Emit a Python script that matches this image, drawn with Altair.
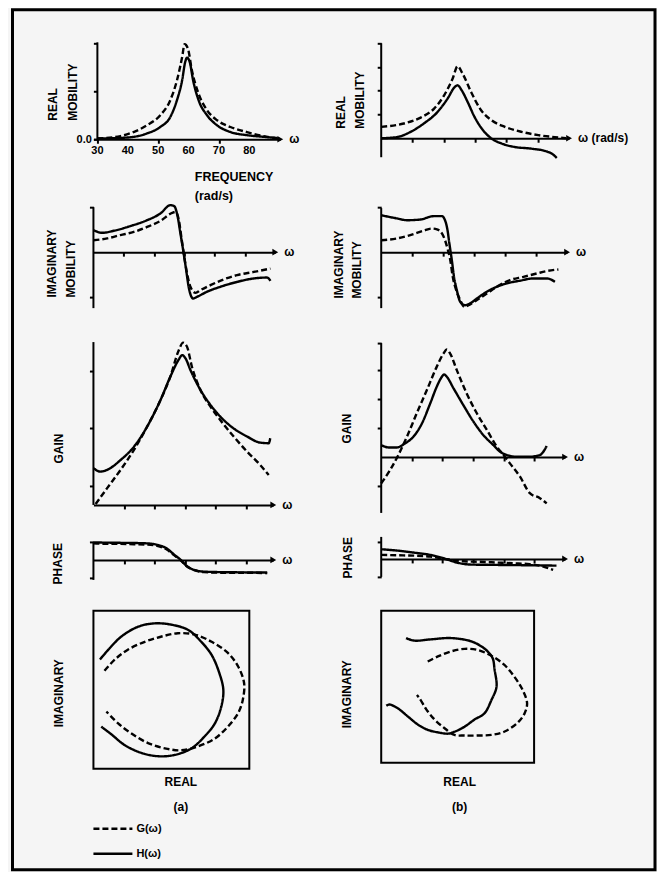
import altair as alt
import pandas as pd

FONT = "Liberation Sans"
SERIES = ["G(ω)", "H(ω)"]
DASHES = [[6, 3], [1, 0]]

# ---------------- column (a) ----------------
REAL_A_FREQ_G = [30.0, 37.6, 41.9, 46.3, 50.7, 54.0, 56.2, 57.9, 58.7, 59.8, 61.1, 63.3, 66.1, 69.4, 73.8, 79.2, 84.7, 89.6]
REAL_A_G = [0.03, 0.13, 0.30, 0.58, 1.00, 1.63, 2.46, 3.43, 3.96, 3.78, 2.88, 1.90, 1.21, 0.79, 0.51, 0.30, 0.13, 0.03]
REAL_A_FREQ_H = [30.0, 39.8, 46.3, 50.7, 54.0, 56.2, 57.9, 58.9, 59.5, 60.4, 61.5, 63.3, 66.1, 69.4, 73.8, 79.2, 84.7, 89.1]
REAL_A_H = [0.03, 0.07, 0.24, 0.51, 0.93, 1.63, 2.46, 3.22, 3.40, 3.22, 2.46, 1.63, 1.00, 0.58, 0.30, 0.17, 0.10, 0.05]

IMAG_A_FREQ_G = [30.0, 34.5, 38.9, 43.3, 47.7, 52.1, 56.0, 57.1, 58.2, 59.0, 59.8, 60.9, 62.0, 63.7, 65.3, 68.6, 73.0, 77.4, 82.9, 88.4]
IMAG_A_G = [0.53, 0.61, 0.76, 0.90, 1.12, 1.39, 1.75, 1.79, 1.42, 0.68, -0.06, -0.95, -1.54, -1.81, -1.69, -1.47, -1.21, -1.02, -0.88, -0.73]
IMAG_A_FREQ_H = [30.0, 32.9, 36.7, 42.2, 47.7, 52.1, 55.4, 56.7, 57.8, 58.7, 59.6, 60.6, 61.5, 62.9, 64.3, 67.5, 71.9, 77.5, 82.9, 87.3, 88.4]
IMAG_A_H = [0.98, 0.86, 0.95, 1.16, 1.42, 1.72, 2.09, 2.04, 1.57, 0.83, 0.09, -0.80, -1.61, -2.06, -1.98, -1.76, -1.54, -1.32, -1.17, -1.13, -1.28]

GAIN_A_FREQ_G = [30.7, 34.5, 38.9, 43.3, 47.6, 52.0, 55.2, 58.0, 59.4, 60.7, 62.3, 65.1, 68.4, 71.6, 76.0, 80.4, 84.7, 87.5]
GAIN_A_G = [0.03, 0.58, 1.21, 1.90, 2.70, 3.62, 4.42, 5.34, 5.60, 5.46, 4.77, 3.97, 3.39, 2.93, 2.36, 1.84, 1.38, 1.03]
GAIN_A_FREQ_H = [30.0, 32.3, 34.5, 38.9, 43.3, 47.6, 52.0, 55.2, 58.0, 59.1, 60.2, 61.8, 65.1, 68.4, 71.6, 76.0, 80.4, 84.7, 87.5, 88.0]
GAIN_A_H = [1.27, 1.15, 1.21, 1.55, 2.01, 2.70, 3.62, 4.42, 5.02, 5.17, 5.06, 4.66, 3.97, 3.45, 3.05, 2.64, 2.36, 2.15, 2.13, 2.30]

PHASE_A_FREQ = [30.0, 34.5, 38.9, 43.3, 47.6, 50.9, 54.2, 56.3, 58.5, 60.7, 62.9, 66.2, 71.6, 77.1, 82.6, 87.0]
PHASE_A_G = [0.93, 0.89, 0.89, 0.87, 0.85, 0.78, 0.56, 0.28, 0.00, -0.37, -0.56, -0.68, -0.71, -0.71, -0.71, -0.74]
PHASE_A_H = [0.97, 0.96, 0.95, 0.94, 0.92, 0.84, 0.62, 0.32, 0.02, -0.35, -0.55, -0.65, -0.68, -0.69, -0.70, -0.70]

NYQ_A_G_RE = [-1.03, -0.87, -0.67, -0.41, -0.15, 0.10, 0.36, 0.62, 0.87, 1.03, 1.12, 1.10, 1.03, 0.87, 0.67, 0.41, 0.15, -0.10, -0.36, -0.62, -0.82, -1.00]
NYQ_A_G_IM = [0.29, 0.46, 0.61, 0.73, 0.81, 0.86, 0.84, 0.73, 0.56, 0.35, 0.10, -0.15, -0.35, -0.56, -0.74, -0.86, -0.92, -0.89, -0.81, -0.66, -0.51, -0.33]
NYQ_A_H_RE = [-1.10, -0.97, -0.77, -0.51, -0.26, 0.00, 0.26, 0.46, 0.62, 0.74, 0.80, 0.77, 0.67, 0.51, 0.31, 0.05, -0.20, -0.46, -0.72, -0.92, -1.08]
NYQ_A_H_IM = [0.46, 0.61, 0.81, 0.96, 1.01, 0.99, 0.91, 0.73, 0.53, 0.25, 0.00, -0.25, -0.51, -0.71, -0.89, -0.99, -1.01, -0.96, -0.84, -0.68, -0.56]

# ---------------- column (b) ----------------
REAL_B_W_G = [0.0, 0.72, 1.26, 1.69, 2.01, 2.28, 2.44, 2.60, 2.87, 3.19, 3.52, 3.95, 4.48, 5.02, 5.67, 5.90]
REAL_B_G = [0.48, 0.62, 0.87, 1.25, 1.81, 2.51, 3.03, 2.72, 1.95, 1.18, 0.76, 0.48, 0.27, 0.13, 0.03, 0.00]
REAL_B_W_H = [0.0, 0.51, 0.94, 1.36, 1.80, 2.12, 2.35, 2.44, 2.57, 2.76, 2.98, 3.25, 3.52, 3.84, 4.27, 4.81, 5.24, 5.45, 5.61]
REAL_B_H = [0.00, 0.05, 0.27, 0.62, 1.11, 1.67, 2.16, 2.23, 2.02, 1.53, 0.90, 0.34, -0.01, -0.22, -0.37, -0.44, -0.54, -0.65, -0.83]

IMAG_B_W_G = [0.0, 0.51, 0.94, 1.36, 1.63, 1.80, 1.96, 2.06, 2.14, 2.23, 2.31, 2.42, 2.55, 2.68, 2.82, 3.09, 3.41, 3.73, 4.16, 4.59, 5.02, 5.35, 5.72]
IMAG_B_G = [0.53, 0.61, 0.76, 0.95, 1.05, 1.01, 0.83, 0.53, 0.16, -0.36, -1.10, -1.69, -2.13, -2.43, -2.36, -2.13, -1.84, -1.54, -1.24, -1.10, -0.95, -0.84, -0.77]
IMAG_B_W_H = [0.0, 0.51, 0.83, 1.26, 1.69, 1.96, 2.06, 2.14, 2.20, 2.28, 2.35, 2.44, 2.55, 2.71, 2.87, 3.09, 3.41, 3.73, 4.05, 4.48, 4.91, 5.35, 5.61]
IMAG_B_H = [1.64, 1.50, 1.42, 1.45, 1.60, 1.60, 1.42, 0.98, 0.39, -0.36, -1.10, -1.69, -2.21, -2.36, -2.28, -2.06, -1.76, -1.54, -1.39, -1.27, -1.17, -1.17, -1.32]

GAIN_B_W_G = [0.0, 0.29, 0.56, 0.84, 1.16, 1.49, 1.81, 2.03, 2.14, 2.25, 2.47, 2.79, 3.12, 3.45, 3.77, 3.99, 4.20, 4.53, 4.85, 5.18, 5.40]
GAIN_B_G = [-0.91, -0.45, 0.07, 0.70, 1.51, 2.31, 3.11, 3.57, 3.71, 3.57, 2.99, 2.19, 1.51, 0.93, 0.36, 0.07, -0.22, -0.68, -1.25, -1.42, -1.60]
GAIN_B_W_H = [0.0, 0.24, 0.51, 0.78, 1.05, 1.33, 1.60, 1.81, 1.98, 2.05, 2.14, 2.36, 2.68, 3.01, 3.33, 3.66, 3.88, 4.09, 4.42, 4.85, 5.18, 5.29, 5.40]
GAIN_B_H = [0.41, 0.33, 0.33, 0.47, 0.70, 1.16, 1.85, 2.42, 2.77, 2.85, 2.77, 2.37, 1.79, 1.22, 0.76, 0.41, 0.18, 0.07, 0.01, 0.01, 0.07, 0.18, 0.38]

PHASE_B_W_G = [0.0, 0.51, 1.05, 1.60, 2.14, 2.68, 3.22, 3.77, 4.31, 4.85, 5.29, 5.61]
PHASE_B_G = [0.22, 0.20, 0.18, 0.13, -0.02, -0.13, -0.16, -0.20, -0.24, -0.29, -0.42, -0.60]
PHASE_B_W_H = [0.0, 0.51, 1.05, 1.60, 2.03, 2.47, 2.90, 3.77, 4.85, 5.72]
PHASE_B_H = [0.53, 0.46, 0.35, 0.22, 0.04, -0.20, -0.31, -0.33, -0.35, -0.37]

NYQ_B_G_RE = [-0.47, -0.31, -0.10, 0.11, 0.32, 0.53, 0.73, 0.89, 1.02, 1.09, 1.05, 0.94, 0.73, 0.53, 0.32, 0.11, -0.05, -0.21, -0.36, -0.49, -0.60, -0.64]
NYQ_B_G_IM = [0.40, 0.48, 0.56, 0.60, 0.58, 0.49, 0.35, 0.16, -0.05, -0.26, -0.42, -0.57, -0.71, -0.76, -0.77, -0.77, -0.76, -0.65, -0.52, -0.36, -0.18, -0.13]
NYQ_B_H_RE = [-0.81, -0.68, -0.42, -0.10, 0.21, 0.37, 0.47, 0.55, 0.58, 0.61, 0.53, 0.42, 0.26, 0.11, -0.05, -0.15, -0.31, -0.47, -0.62, -0.78, -0.94, -1.07, -1.12]
NYQ_B_H_IM = [0.77, 0.73, 0.75, 0.77, 0.72, 0.64, 0.56, 0.45, 0.27, 0.00, -0.21, -0.42, -0.52, -0.63, -0.71, -0.74, -0.72, -0.68, -0.60, -0.47, -0.34, -0.28, -0.30]

FREQ_TICKS = [30, 40, 50, 60, 70, 80]
FREQ_TICK_LABELS = ["30", "40", "50", "60", "70", "80"]
A_TICKS = [40, 50, 60, 70, 80]
B_TICKS = [1, 2, 3, 4, 5]


def frame(xg, yg, xh, yh):
    rows = []
    for s, xs, ys in ((SERIES[0], xg, yg), (SERIES[1], xh, yh)):
        for i, (a, b) in enumerate(zip(xs, ys)):
            rows.append({"x": a, "y": b, "s": s, "i": i})
    return pd.DataFrame(rows)


DASH_ENC = alt.StrokeDash("s:N", scale=alt.Scale(domain=SERIES, range=DASHES), legend=None)


def curve_panel(d, xdom, ydom, width, height, xticks, yticks, yvis, yaxis_at,
                ytitle, ytx, yty, ylh=20, xtick_labels=None, xtitle=None, xtx=0, xty=0,
                xlh=19, wlabel="ω", ylabelexpr=None, extra=None):
    xs = alt.Scale(domain=xdom, nice=False, zero=False)
    ys = alt.Scale(domain=ydom, nice=False, zero=False)
    xoff = -(0 - ydom[0]) / (ydom[1] - ydom[0]) * height
    yoff = -(yaxis_at - xdom[0]) / (xdom[1] - xdom[0]) * width
    xax = dict(values=xticks, labels=False, offset=xoff, grid=False, domainWidth=2,
               tickWidth=2, tickSize=4)
    if xtitle:
        xax.update(title=xtitle, titleAlign="left", titleBaseline="top", titleX=xtx,
                   titleY=xty, titleLineHeight=xlh, titleFontSize=12.5)
    else:
        xax["title"] = None
    yax = dict(values=yticks, domain=False, offset=yoff, grid=False, tickWidth=2, tickSize=4,
               title=ytitle, titleAngle=-90, titleAlign="left", titleBaseline="middle",
               titleX=ytx, titleY=yty, titleLineHeight=ylh, titleFontSize=12)
    if ylabelexpr:
        yax.update(labels=True, labelExpr=ylabelexpr, labelFontSize=11, labelPadding=2)
    else:
        yax["labels"] = False
    lines = alt.Chart(d).mark_line(color="black", strokeWidth=2.4, interpolate="monotone").encode(
        x=alt.X("x:Q", scale=xs, axis=alt.Axis(**xax)),
        y=alt.Y("y:Q", scale=ys, axis=alt.Axis(**yax)),
        strokeDash=DASH_ENC,
        order="i:Q",
    )
    ax = pd.DataFrame({"x": [yaxis_at], "y": [yvis[0]], "y2": [yvis[1]]})
    rule = alt.Chart(ax).mark_rule(color="black", strokeWidth=2).encode(
        x=alt.X("x:Q", scale=xs), y=alt.Y("y:Q", scale=ys), y2="y2:Q")
    tip = pd.DataFrame({"x": [xdom[1]], "y": [0.0], "t": [wlabel]})
    arrow = alt.Chart(tip).mark_point(shape="triangle-right", filled=True, color="black",
                                      size=45, opacity=1).encode(
        x=alt.X("x:Q", scale=xs), y=alt.Y("y:Q", scale=ys))
    lab = alt.Chart(tip).mark_text(align="left", baseline="middle", dx=9, font=FONT,
                                   fontWeight="bold", fontSize=12, color="black").encode(
        x=alt.X("x:Q", scale=xs), y=alt.Y("y:Q", scale=ys), text="t:N")
    layers = [lines, rule, arrow, lab]
    if xtick_labels is not None:
        tl = pd.DataFrame({"x": xticks, "y": [0.0] * len(xticks), "t": xtick_labels})
        layers.append(alt.Chart(tl).mark_text(align="center", baseline="top", dy=6, font=FONT,
                                              fontWeight="bold", fontSize=11, color="black").encode(
            x=alt.X("x:Q", scale=xs), y=alt.Y("y:Q", scale=ys), text="t:N"))
    if extra is not None:
        layers.append(extra)
    return alt.layer(*layers).properties(width=width, height=height)


def nyq_panel(d, width, height, ytx, yty, xtitle, xtx, xty, xlh):
    sc = alt.Scale(domain=[-1.2, 1.2], nice=False, zero=False)
    return alt.Chart(d).mark_line(color="black", strokeWidth=2.4, interpolate="catmull-rom").encode(
        x=alt.X("x:Q", scale=sc, axis=alt.Axis(domain=False, ticks=False, labels=False, grid=False,
                                               title=xtitle, titleAlign="center", titleBaseline="top",
                                               titleX=xtx, titleY=xty, titleLineHeight=xlh,
                                               titleFontSize=12)),
        y=alt.Y("y:Q", scale=sc, axis=alt.Axis(domain=False, ticks=False, labels=False, grid=False,
                                               title="IMAGINARY", titleAngle=-90, titleAlign="left",
                                               titleBaseline="middle", titleX=ytx, titleY=yty,
                                               titleFontSize=12)),
        strokeDash=DASH_ENC,
        order="i:Q",
    ).properties(width=width, height=height,
                 view=alt.ViewBackground(stroke="black", strokeWidth=2))


# outer page frame (decoration)
page_frame = alt.Chart(pd.DataFrame({"k": [0]})).mark_rect(
    fillOpacity=0, stroke="black", strokeWidth=3).encode(
    x=alt.value(-81), x2=alt.value(562), y=alt.value(-32.5), y2=alt.value(828))

real_a = curve_panel(frame(REAL_A_FREQ_G, REAL_A_G, REAL_A_FREQ_H, REAL_A_H),
                     [28.7, 90.2], [-2.0, 4.042], 187, 145, FREQ_TICKS, [0, 1, 2, 3, 4],
                     [0, 4.04], 30, ["REAL", "MOBILITY"], -45, 78, ylh=20,
                     xtick_labels=FREQ_TICK_LABELS, xtitle=["FREQUENCY", "(rad/s)"],
                     xtx=101, xty=31,
                     ylabelexpr="datum.value == 0 ? '0.0' : ''", extra=page_frame)
imag_a = curve_panel(frame(IMAG_A_FREQ_G, IMAG_A_G, IMAG_A_FREQ_H, IMAG_A_H),
                     [30, 90], [-3.111, 2.0], 182, 115, A_TICKS, [-2, -1, 1, 2],
                     [-2.49, 2.0], 30, ["IMAGINARY", "MOBILITY"], -42, 90, ylh=19)
gain_a = curve_panel(frame(GAIN_A_FREQ_G, GAIN_A_G, GAIN_A_FREQ_H, GAIN_A_H),
                     [30, 89], [-0.414, 5.62], 180, 175, A_TICKS,
                     [0.65, 1.65, 2.65, 3.65, 4.63, 5.62], [0, 5.62], 30, "GAIN", -35, 121)
phase_a = curve_panel(frame(PHASE_A_FREQ, PHASE_A_G, PHASE_A_FREQ, PHASE_A_H),
                      [30, 89], [-1.722, 1.278], 180, 54, A_TICKS, [-1, 1],
                      [-1.11, 1.0], 30, "PHASE", -36, 47)
nyq_a = nyq_panel(frame(NYQ_A_G_RE, NYQ_A_G_IM, NYQ_A_H_RE, NYQ_A_H_IM), 156, 158,
                  -35, 116, ["REAL", "(a)"], 87, 8, 25)

real_b = curve_panel(frame(REAL_B_W_G, REAL_B_G, REAL_B_W_H, REAL_B_H),
                     [0, 6], [-2.063, 4.042], 188, 145, B_TICKS, [1, 2, 3, 4],
                     [-0.8, 4.0], 0, ["REAL", "MOBILITY"], -41, 86, ylh=19,
                     wlabel="ω (rad/s)")
imag_b = curve_panel(frame(IMAG_B_W_G, IMAG_B_G, IMAG_B_W_H, IMAG_B_H),
                     [0, 6], [-3.111, 2.0], 186, 115, B_TICKS, [-2, -1, 1, 2],
                     [-2.49, 1.96], 0, ["IMAGINARY", "MOBILITY"], -43, 91, ylh=18)
gain_b = curve_panel(frame(GAIN_B_W_G, GAIN_B_G, GAIN_B_W_H, GAIN_B_H),
                     [0, 6], [-2.069, 3.966], 184, 175, B_TICKS, [-1, 1, 2, 3, 3.93],
                     [-1.93, 3.93], 0, "GAIN", -35, 101)
phase_b = curve_panel(frame(PHASE_B_W_G, PHASE_B_G, PHASE_B_W_H, PHASE_B_H),
                      [0, 6], [-1.758, 1.209], 184, 54, B_TICKS, [-1, 0.95],
                      [-0.99, 1.21], 0, "PHASE", -34, 41)
nyq_b = nyq_panel(frame(NYQ_B_G_RE, NYQ_B_G_IM, NYQ_B_H_RE, NYQ_B_H_IM), 153, 152,
                  -35, 117, ["REAL", "(b)"], 78, 14, 25)

# key for the two line styles
leg_df = pd.DataFrame({"s": SERIES, "x0": [0, 0], "x1": [1, 1]})
leg_x = alt.Scale(domain=[0, 1], range=[0, 39])
leg_y = alt.Scale(type="point", domain=SERIES, range=[40, 65], padding=0)
leg_lines = alt.Chart(leg_df).mark_rule(color="black", strokeWidth=2.5).encode(
    x=alt.X("x0:Q", scale=leg_x, axis=None), x2="x1:Q",
    y=alt.Y("s:N", scale=leg_y, axis=None), strokeDash=DASH_ENC)
leg_text = alt.Chart(leg_df).mark_text(align="left", baseline="middle", dx=4, font=FONT,
                                       fontWeight="bold", fontSize=11, color="black").encode(
    x=alt.X("x1:Q", scale=leg_x, axis=None), y=alt.Y("s:N", scale=leg_y, axis=None), text="s:N")
legend = alt.layer(leg_lines, leg_text).properties(width=150, height=80)

chart = alt.concat(
    real_a, real_b, imag_a, imag_b, gain_a, gain_b, phase_a, phase_b, nyq_a, nyq_b, legend,
    columns=2, spacing={"row": 20, "column": 101}, bounds="flush",
    padding={"left": 2.5, "top": 0, "right": 0, "bottom": 0}, background="#f5f5f5",
).configure_view(stroke=None).configure_axis(
    labelFont=FONT, titleFont=FONT, labelFontWeight="bold", titleFontWeight="bold",
    labelColor="black", titleColor="black", domainColor="black", tickColor="black",
)

chart.save("out.html", embed_options={"renderer": "svg", "actions": False})
